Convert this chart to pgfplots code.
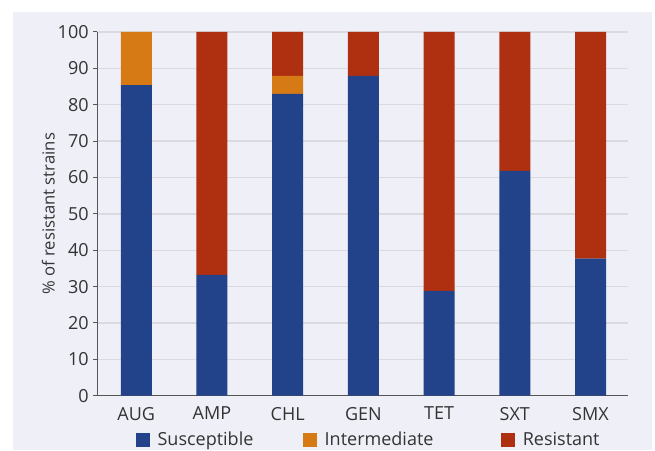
\documentclass[border=0pt]{standalone}
\usepackage{fontspec}
\setmainfont{Open Sans}
\usepackage{pgfplots}
\pgfplotsset{compat=1.18}
\definecolor{bgc}{RGB}{239,239,248}
\definecolor{cS}{RGB}{34,66,138}
\definecolor{cI}{RGB}{213,122,21}
\definecolor{cR}{RGB}{174,48,17}
\definecolor{gridc}{RGB}{218,218,224}
\definecolor{axc}{RGB}{85,85,85}
\definecolor{txt}{RGB}{51,51,51}
\begin{document}
\begin{tikzpicture}
\path[use as bounding box] (-72.975pt,-40.725pt) rectangle (418.275pt,296.775pt);
\fill[bgc] (-63.225pt,-40.725pt) rectangle (416.025pt,287.775pt);
\begin{axis}[
  at={(0pt,0pt)}, anchor=south west,
  scale only axis, width=398pt, height=272.8pt,
  font=\fontsize{13.5}{15}\selectfont,
  ybar stacked, bar width=23.25pt,
  xmin=-0.515, xmax=6.495, ymin=0, ymax=100,
  ytick={0,10,...,100},
  xtick=data,
  xticklabels={AUG,AMP,CHL,GEN,TET,SXT,SMX},
  axis lines=left,
  axis line style={-, draw=axc, line width=0.8pt},
  xtick style={draw=none},
  ytick style={draw=axc, line width=0.8pt},
  tick align=outside, major tick length=3pt,
  ymajorgrids, grid style={draw=gridc, line width=1pt},
  every tick label/.append style={text=txt},
  xticklabel style={yshift=-2pt},
  /pgf/number format/assume math mode=true,
  ylabel={\% of resistant strains},
  ylabel style={at={(axis description cs:-0.0923,0.5)}, anchor=center, text=txt, font=\fontsize{12.5}{14}\selectfont},
  legend columns=3,
  legend style={draw=none, fill=none, inner sep=0pt, at={(axis description cs:0.0729,0)}, anchor=west, yshift=-33.2pt,
    /tikz/column 2/.style={column sep=35.5pt},
    /tikz/column 4/.style={column sep=49pt}, text=txt,
    font=\fontsize{13.5}{15}\selectfont},
  legend image code/.code={\fill[#1] (0pt,-5.25pt) rectangle (10.5pt,5.25pt); \path (14pt,0pt);},
]
\addplot[fill=cS, draw=none] coordinates {(0,85.4) (1,33.2) (2,83.0) (3,87.9) (4,28.8) (5,61.8) (6,37.7)};
\addplot[fill=cI, draw=none] coordinates {(0,14.6) (1,0) (2,4.9) (3,0) (4,0) (5,0) (6,0)};
\addplot[fill=cR, draw=none] coordinates {(0,0) (1,66.8) (2,12.1) (3,12.1) (4,71.2) (5,38.2) (6,62.3)};
\legend{Susceptible,Intermediate,Resistant}
\end{axis}
\end{tikzpicture}
\end{document}
